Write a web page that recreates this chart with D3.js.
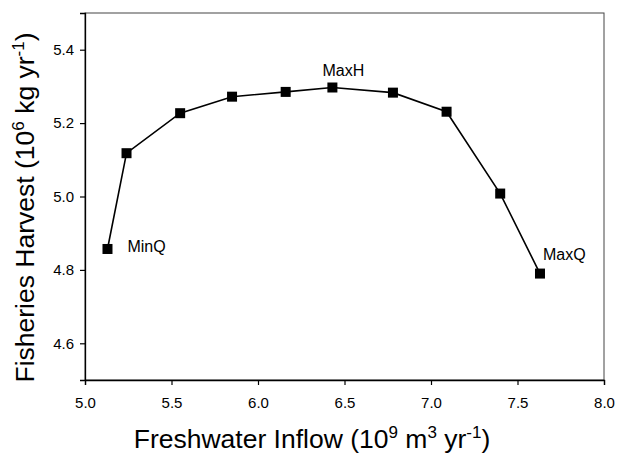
<!DOCTYPE html>
<html>
<head>
<meta charset="utf-8">
<script src="https://cdn.jsdelivr.net/npm/d3@7"></script>
<style>
  html, body { margin: 0; padding: 0; background: #fff; }
  svg { display: block; font-family: "Liberation Sans", Arial, sans-serif; }
</style>
</head>
<body>
<svg id="chart" width="618" height="458"></svg>
<script>
// ---- data ----
const inflow  = [5.13, 5.24, 5.55, 5.85, 6.16, 6.43, 6.78, 7.09, 7.40, 7.63];
const harvest = [4.857, 5.118, 5.227, 5.272, 5.285, 5.297, 5.283, 5.231, 5.008, 4.790];
const pointLabels = [ {i: 0, text: "MinQ"}, {i: 5, text: "MaxH"}, {i: 9, text: "MaxQ"} ];
const xTicks = [5.0, 5.5, 6.0, 6.5, 7.0, 7.5, 8.0];
const yTicks = [4.6, 4.8, 5.0, 5.2, 5.4];
const xDomain = [5.0, 8.0];
const yDomain = [4.5, 5.5];

// ---- layout ----
const svg = d3.select("#chart");
const pLeft = 85, pRight = 604, pTop = 13, pBottom = 380;

const x = d3.scaleLinear().domain(xDomain).range([pLeft, pRight]);
const y = d3.scaleLinear().domain(yDomain).range([pBottom, pTop]);

// frame
svg.append("rect")
  .attr("x", pLeft).attr("y", pTop)
  .attr("width", pRight - pLeft).attr("height", pBottom - pTop)
  .attr("fill", "none").attr("stroke", "#444").attr("stroke-width", 1);

// axes
const xAxis = svg.append("g")
  .attr("transform", `translate(0,${pBottom})`)
  .call(d3.axisBottom(x).tickValues(xTicks).tickFormat(d3.format(".1f")).tickSize(5).tickPadding(12));
const yAxis = svg.append("g")
  .attr("transform", `translate(${pLeft},0)`)
  .call(d3.axisLeft(y).tickValues(yTicks).tickFormat(d3.format(".1f")).tickSize(5).tickPadding(6));

[xAxis, yAxis].forEach(g => {
  g.select(".domain").attr("stroke", "#000").attr("stroke-width", 1.3);
  g.selectAll(".tick line").attr("stroke", "#000").attr("stroke-width", 1.2);
  g.selectAll(".tick text")
    .attr("fill", "#000")
    .style("font-family", "'Liberation Sans', Arial, sans-serif")
    .style("font-size", "15px");
});

// line
const pts = inflow.map((v, i) => [v, harvest[i]]);
svg.append("path")
  .datum(pts)
  .attr("fill", "none")
  .attr("stroke", "#000")
  .attr("stroke-width", 1.6)
  .attr("d", d3.line().x(d => x(d[0])).y(d => y(d[1])));

// markers
const ms = 10;
svg.append("g").selectAll("rect")
  .data(pts)
  .join("rect")
  .attr("x", d => x(d[0]) - ms / 2)
  .attr("y", d => y(d[1]) - ms / 2)
  .attr("width", ms).attr("height", ms)
  .attr("fill", "#000");

// annotations
const labelOffsets = { "MinQ": [20, 3, "start"], "MaxH": [11, -12, "middle"], "MaxQ": [3, -14, "start"] };
svg.append("g").selectAll("text")
  .data(pointLabels)
  .join("text")
  .attr("x", d => x(inflow[d.i]) + labelOffsets[d.text][0])
  .attr("y", d => y(harvest[d.i]) + labelOffsets[d.text][1])
  .attr("text-anchor", d => labelOffsets[d.text][2])
  .style("font-size", "16px")
  .attr("fill", "#000")
  .text(d => d.text);

// axis titles
const xt = svg.append("text")
  .attr("x", 312)
  .attr("y", 448)
  .attr("text-anchor", "middle")
  .style("font-size", "26.5px")
  .attr("fill", "#000");
xt.append("tspan").text("Freshwater Inflow (10");
xt.append("tspan").attr("dy", -10).style("font-size", "17px").text("9");
xt.append("tspan").attr("dy", 10).text(" m");
xt.append("tspan").attr("dy", -10).style("font-size", "17px").text("3");
xt.append("tspan").attr("dy", 10).text(" yr");
xt.append("tspan").attr("dy", -10).style("font-size", "17px").text("-1");
xt.append("tspan").attr("dy", 10).text(")");

const yt = svg.append("text")
  .attr("transform", `translate(34,${(pTop + pBottom) / 2 + 11}) rotate(-90)`)
  .attr("text-anchor", "middle")
  .style("font-size", "26.5px")
  .attr("fill", "#000");
yt.append("tspan").text("Fisheries Harvest (10");
yt.append("tspan").attr("dy", -10).style("font-size", "17px").text("6");
yt.append("tspan").attr("dy", 10).text(" kg yr");
yt.append("tspan").attr("dy", -10).style("font-size", "17px").text("-1");
yt.append("tspan").attr("dy", 10).text(")");
</script>
</body>
</html>
